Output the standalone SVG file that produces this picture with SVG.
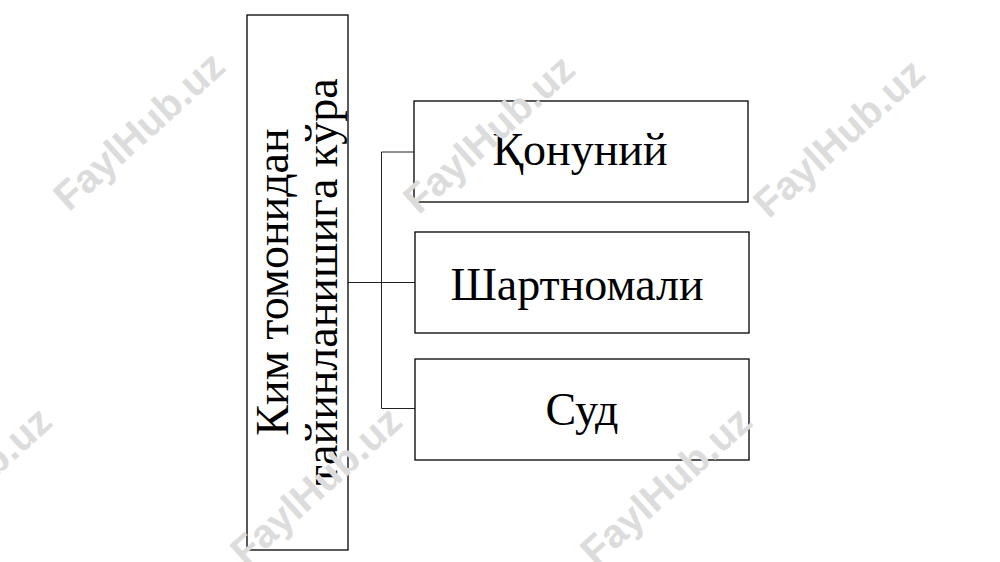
<svg xmlns="http://www.w3.org/2000/svg" width="1000" height="562" viewBox="0 0 1000 562">
<style>
.box{fill:#fff;stroke:#000;stroke-width:1.3}
.lbl{font-family:"Liberation Serif","Times New Roman",serif;font-size:46px;fill:#000;text-anchor:middle}
.wm{font-family:"Liberation Sans",Arial,sans-serif;font-weight:bold;font-size:40px;fill:#dcdcdc;text-anchor:middle}
.con{fill:none;stroke:#222;stroke-width:1}
</style>
<rect width="1000" height="562" fill="#fff"/>
<g id="connectors">
<path class="con" d="M348,282.5 H415 M381.5,152 V408.5 M381.5,152 H414 M381.5,408.5 H415"/>
</g>
<g id="node-main">
<rect class="box" x="247" y="15" width="101" height="535"/>
<text class="lbl" transform="translate(288,282) rotate(-90)">Ким томонидан</text>
<text class="lbl" transform="translate(337,282) rotate(-90)">тайинланишига кўра</text>
</g>
<g id="node-qonuniy">
<rect class="box" x="414" y="101" width="334" height="101"/>
<text class="lbl" x="580" y="165">Қонуний</text>
</g>
<g id="node-shartnomali">
<rect class="box" x="415" y="232" width="334" height="101"/>
<text class="lbl" x="577" y="300">Шартномали</text>
</g>
<g id="node-sud">
<rect class="box" x="415" y="359" width="334" height="101"/>
<text class="lbl" x="582" y="425">Суд</text>
</g>
<g id="watermarks">
<text class="wm" transform="translate(148,141) rotate(-42)">FaylHub.uz</text>
<text class="wm" transform="translate(498,144) rotate(-42)">FaylHub.uz</text>
<text class="wm" transform="translate(848,148) rotate(-42)">FaylHub.uz</text>
<text class="wm" transform="translate(-25,496) rotate(-42)">FaylHub.uz</text>
<text class="wm" transform="translate(325,496) rotate(-42)">FaylHub.uz</text>
<text class="wm" transform="translate(675,496) rotate(-42)">FaylHub.uz</text>
</g>
</svg>
